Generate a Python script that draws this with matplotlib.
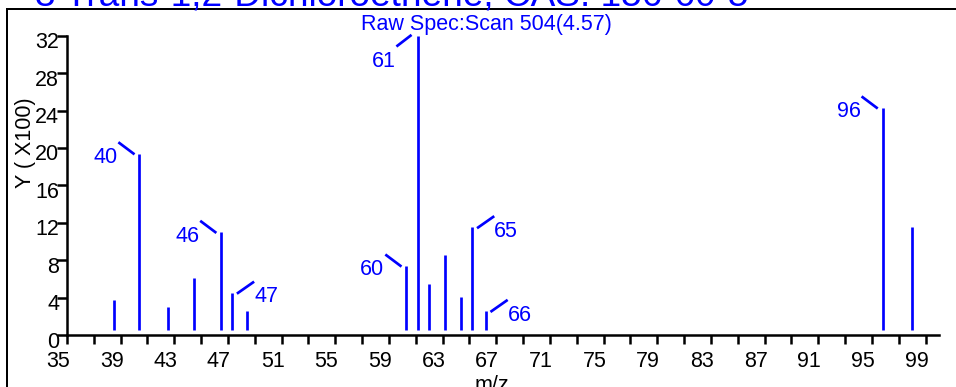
import matplotlib
matplotlib.use('Agg')
import matplotlib.pyplot as plt
from matplotlib.transforms import ScaledTranslation
from matplotlib.lines import Line2D

plt.rcParams['font.family'] = ['Liberation Sans', 'DejaVu Sans']

# peak positions (m/z axis units) and intensities (x100)
mz = [38.5, 40.4, 42.5, 44.5, 46.5, 47.3, 48.4, 60.3, 61.2, 62.0, 63.2, 64.4,
      65.2, 66.2, 95.8, 98.0]
intensity = [3.7, 19.4, 3.0, 6.1, 11.0, 4.5, 2.6, 7.4, 32.0, 5.45, 8.55, 4.1,
             11.5, 2.55, 24.3, 11.5]
base = 0.53

# labelled peaks: index into mz, label text, side
peak_labels = [(1, '40', 'left'), (4, '46', 'left'), (5, '47', 'right'),
               (7, '60', 'left'), (8, '61', 'below'), (12, '65', 'right'),
               (13, '66', 'right'), (14, '96', 'left')]

title = '3 Trans-1,2-Dichloroethene, CAS: 156-60-5'
subtitle = 'Raw Spec:Scan 504(4.57)'
xticks_major = list(range(35, 100, 4))
xticks_minor = list(range(37, 100, 4))
yticks = list(range(0, 33, 4))

W, H = 956, 387
fs = 21.5
blue = '#0000ff'

fig = plt.figure(figsize=(W / 72, H / 72), dpi=72)
ax = fig.add_axes([67 / W, 52 / H, (939 - 67) / W, (335 - 35.7) / H])

ax.vlines(mz, base, intensity, colors=blue, linewidth=2.7)

# leader lines and labels, offsets in points (= pixels at 72 dpi)
for (i, txt, side) in peak_labels:
    x, y = mz[i], intensity[i]
    if side == 'left':
        p0, p1, tp, ha = (-6, 0), (-20, 10.5), (-22, -9.5), 'right'
    elif side == 'right':
        p0, p1, tp, ha = (6, 0), (21, 10.5), (22, -9.5), 'left'
    else:
        p0, p1, tp, ha = (-8, 0), (-21, -10), (-23, -31), 'right'
    seg = Line2D([p0[0] / 72, p1[0] / 72], [p0[1] / 72, p1[1] / 72],
                 color=blue, linewidth=2.7, clip_on=False,
                 transform=fig.dpi_scale_trans + ScaledTranslation(x, y, ax.transData))
    ax.add_line(seg)
    ax.annotate(txt, xy=(x, y), xytext=tp, textcoords='offset points',
                ha=ha, va='baseline', color=blue, fontsize=fs,
                annotation_clip=False)

ax.set_xlim(35, 100)
ax.set_ylim(0, 32)
for s in ['top', 'right']:
    ax.spines[s].set_visible(False)
for s in ['left', 'bottom']:
    ax.spines[s].set_linewidth(2.5)
ax.set_xticks(xticks_major)
ax.set_xticks(xticks_minor, minor=True)
ax.set_yticks(yticks)
ax.tick_params(axis='x', which='both', direction='out', length=9, width=2.5,
               labelsize=fs, pad=7)
ax.tick_params(axis='y', direction='out', length=10, width=2.5,
               labelsize=fs, pad=-2)
dx = ScaledTranslation(-9 / 72, 0, fig.dpi_scale_trans)
for lab in ax.get_xticklabels():
    lab.set_transform(lab.get_transform() + dx)
dy = ScaledTranslation(0, -4.5 / 72, fig.dpi_scale_trans)
for lab in ax.get_yticklabels():
    lab.set_transform(lab.get_transform() + dy)

fig.text(26 / W, 1 - 143 / H, 'Y ( X100)', rotation=90, ha='center',
         va='center', fontsize=fs)
fig.text(492 / W, -4 / H, 'm/z', ha='center', va='baseline', fontsize=fs)
fig.text(486.5 / W, 1 - 30 / H, subtitle, ha='center', va='baseline',
         color=blue, fontsize=fs)
fig.text(35 / W, 1 - 5.5 / H, title, ha='left', va='baseline', color=blue,
         fontsize=37)

# outer frame
fig.add_artist(Line2D([7 / W, 1.0], [1 - 9 / H, 1 - 9 / H], color='black',
                      linewidth=2, transform=fig.transFigure))
fig.add_artist(Line2D([7 / W, 7 / W], [0, 1 - 9 / H], color='black',
                      linewidth=2, transform=fig.transFigure))

fig.savefig('out.png', dpi=72)
